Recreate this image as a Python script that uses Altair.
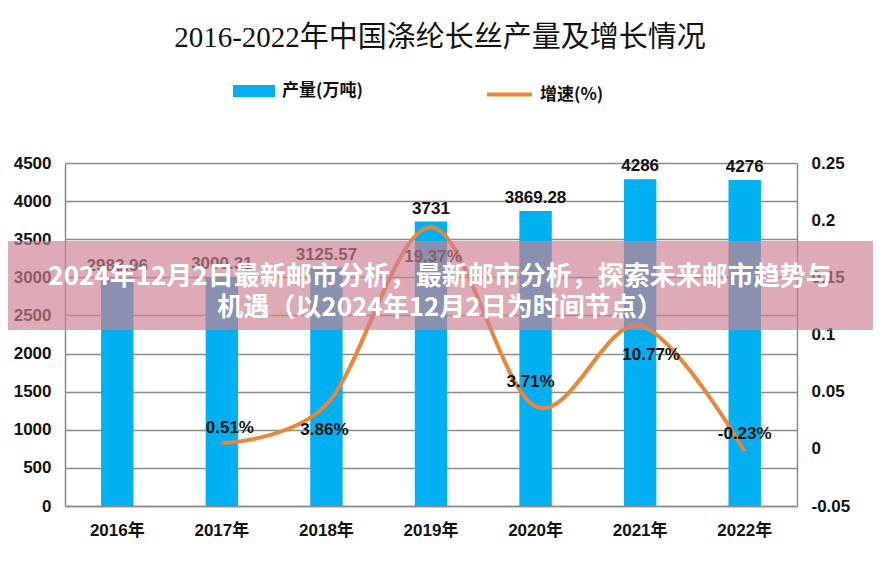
import altair as alt
import pandas as pd

# ---------------- data ----------------
years = ["2016年", "2017年", "2018年", "2019年", "2020年", "2021年", "2022年"]
output = [2983.96, 3000.31, 3125.57, 3731, 3869.28, 4286, 4276]
output_labels = ["2983.96", "3000.31", "3125.57", "3731", "3869.28", "4286", "4276"]

growth_years = ["2017年", "2018年", "2019年", "2020年", "2021年", "2022年"]
growth = [0.0051, 0.0386, 0.1937, 0.0371, 0.1077, -0.0023]
growth_labels = ["0.51%", "3.86%", "19.37%", "3.71%", "10.77%", "-0.23%"]

left_ticks = [0, 500, 1000, 1500, 2000, 2500, 3000, 3500, 4000, 4500]
right_ticks = [-0.05, 0, 0.05, 0.1, 0.15, 0.2, 0.25]

title_text = "2016-2022年中国涤纶长丝产量及增长情况"
bar_series = "产量(万吨)"
line_series = "增速(%)"
banner_lines = ["2024年12月2日最新邮市分析，最新邮市分析，探索未来邮市趋势与",
                "机遇（以2024年12月2日为时间节点）"]

# label placement style (pixel offsets for line labels)
label_dx = [8, -2, 2, -5, 11, 0]
label_dy = [-15, 25, 30, -24, 29, -17]

W, H = 732, 343
BLUE = "#00B0F0"
ORANGE = "#E8873A"
GRID = "#8C8C8C"
LAT = "Liberation Sans, Noto Sans CJK SC"
CJK = "Noto Sans CJK SC"

bars_df = pd.DataFrame({"year": years, "output": output, "label": output_labels,
                        "series": [bar_series] * len(years)})
line_df = pd.DataFrame({"year": growth_years, "growth": growth, "label": growth_labels,
                        "series": [line_series] * len(growth_years)})

x_enc = alt.X("year:N", sort=years,
              scale=alt.Scale(paddingInner=0.69, paddingOuter=0.345),
              axis=alt.Axis(title=None, labelAngle=0, ticks=False, domainColor=GRID,
                            domainWidth=1.5, labelFont=LAT, labelFontSize=17,
                            labelFontWeight="bold", labelColor="#111", labelPadding=16))

y_left = alt.Y("output:Q", scale=alt.Scale(domain=[0, 4500], nice=False),
               axis=alt.Axis(title=None, values=left_ticks, grid=True, gridColor=GRID,
                             gridWidth=1.5, ticks=False, domainColor=GRID, domainWidth=1.5,
                             labelFont=LAT, labelFontSize=17, labelFontWeight="bold",
                             labelColor="#111", labelPadding=14, orient="left",
                             labelOverlap=False, labelExpr="'' + datum.value"))

bars = alt.Chart(bars_df).mark_bar().encode(
    x=x_enc,
    y=y_left,
    fill=alt.Fill("series:N", scale=alt.Scale(domain=[bar_series], range=[BLUE]),
                  legend=alt.Legend(title=None, orient="none", legendX=168, legendY=-93,
                                    symbolType="M-1,-0.29L1,-0.29L1,0.29L-1,0.29Z",
                                    symbolSize=1764, symbolStrokeWidth=0,
                                    labelFont=CJK, labelFontSize=17, labelFontWeight="bold",
                                    labelColor="#111", labelOffset=7, padding=0)),
)
bar_text = alt.Chart(bars_df).mark_text(baseline="bottom", dy=-4, font=LAT, fontSize=17,
                                        fontWeight="bold", color="#111").encode(
    x=alt.X("year:N", sort=years), y=y_left, text="label:N")

bar_layer = alt.layer(bars, bar_text)

y_right = alt.Y("growth:Q", scale=alt.Scale(domain=[-0.05, 0.25], nice=False),
                axis=alt.Axis(title=None, values=right_ticks, grid=False, ticks=False,
                              domainColor=GRID, domainWidth=1.5, labelFont=LAT,
                              labelFontSize=17, labelFontWeight="bold", labelColor="#111",
                              labelPadding=14, orient="right", labelOverlap=False,
                              labelExpr="'' + datum.value"))

line = alt.Chart(line_df).mark_line(interpolate="cardinal", strokeWidth=4).encode(
    x=alt.X("year:N", sort=years),
    y=y_right,
    stroke=alt.Stroke("series:N", scale=alt.Scale(domain=[line_series], range=[ORANGE]),
                      legend=alt.Legend(title=None, orient="none", legendX=420, legendY=-93,
                                        symbolType="stroke", symbolSize=2025,
                                        symbolStrokeWidth=4, labelFont=CJK,
                                        labelFontSize=17, labelFontWeight="bold",
                                        labelColor="#111", labelOffset=6, padding=0)),
)

line_texts = []
for yr, dx, dy in zip(growth_years, label_dx, label_dy):
    line_texts.append(
        alt.Chart(line_df).transform_filter(alt.datum.year == yr).mark_text(
            dx=dx, dy=dy, baseline="middle", font=LAT, fontSize=17, fontWeight="bold",
            color="#111").encode(x=alt.X("year:N", sort=years), y=y_right,
                                 text="label:N"))

line_layer = alt.layer(line, *line_texts)

banner_df = pd.DataFrame({"t": ["\n".join(banner_lines)]})
banner_rect = alt.Chart(banner_df).mark_rect(color="#CE8091", opacity=0.67).encode(
    x=alt.value(-70), x2=alt.value(W + 100), y=alt.value(78), y2=alt.value(167))
banner_text = alt.Chart(banner_df).mark_text(
    font=CJK, fontSize=26, fontWeight="bold", color="white", align="center",
    baseline="middle", lineBreak="\n", lineHeight=31).encode(
    x=alt.value(375), y=alt.value(114), text="t:N")

chart = alt.layer(bar_layer, line_layer, banner_rect, banner_text).resolve_scale(
    y="independent", fill="independent", stroke="independent"
).properties(
    width=W, height=H,
    title=alt.TitleParams(title_text, font="Liberation Serif, Noto Sans CJK SC",
                          fontSize=29, fontWeight="normal", color="#111",
                          anchor="middle", dx=9, offset=17),
    autosize=alt.AutoSizeParams(type="none"),
    padding={"left": 57, "top": 155, "right": 76, "bottom": 50},
    background="white",
).configure_view(stroke=None)

chart.save("out.html", embed_options={"renderer": "svg", "actions": False})
